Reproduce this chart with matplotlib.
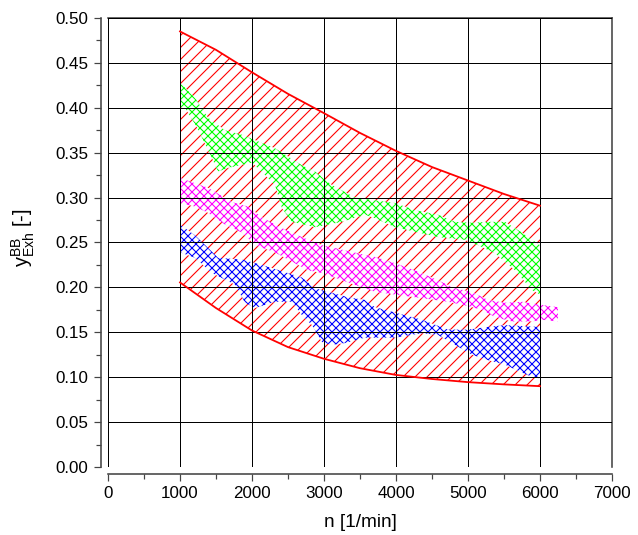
import numpy as np
import matplotlib.pyplot as plt
from matplotlib.ticker import MultipleLocator, FormatStrFormatter

plt.rcParams['font.family'] = ['Liberation Sans', 'DejaVu Sans']
plt.rcParams['mathtext.default'] = 'regular'
plt.rcParams['hatch.linewidth'] = 1.1

# red envelope (upper / lower limit)
env_n = [1000, 1500, 2000, 2500, 3000, 3500, 4000, 4500, 5000, 5500, 6000]
env_upper = [0.485, 0.4645, 0.4395, 0.4155, 0.394, 0.372, 0.352, 0.334, 0.319, 0.304, 0.291]
env_lower = [0.2055, 0.177, 0.152, 0.1335, 0.1205, 0.110, 0.1025, 0.098, 0.0945, 0.092, 0.090]

# green band
green_up_n = [1000, 1208, 1389, 1625, 1861, 2042, 2319, 2694, 2875, 3111, 3431, 3708,
              3986, 4264, 4583, 4819, 5056, 5278, 5514, 5750, 6000]
green_up = [0.428, 0.411, 0.389, 0.375, 0.370, 0.364, 0.355, 0.336, 0.329, 0.314, 0.300,
            0.297, 0.294, 0.286, 0.281, 0.273, 0.272, 0.273, 0.273, 0.261, 0.247]
green_lo_n = [1000, 1069, 1236, 1444, 1528, 1667, 2000, 2181, 2319, 2417, 2556, 2875,
              3250, 3569, 3708, 3986, 4264, 4583, 4958, 5139, 5375, 5653, 5889, 6000]
green_lo = [0.401, 0.400, 0.378, 0.344, 0.329, 0.333, 0.339, 0.325, 0.314, 0.288, 0.273,
            0.267, 0.273, 0.281, 0.277, 0.267, 0.262, 0.256, 0.253, 0.247, 0.238, 0.219,
            0.197, 0.192]

# magenta band
mag_up_n = [1000, 1208, 1389, 1722, 1944, 2139, 2417, 2694, 2972, 3250, 3528, 3708,
            3986, 4264, 4583, 4819, 5056, 5278, 5514, 5750, 6069, 6250]
mag_up = [0.322, 0.316, 0.311, 0.295, 0.290, 0.278, 0.266, 0.256, 0.247, 0.242, 0.237,
          0.234, 0.227, 0.219, 0.208, 0.199, 0.195, 0.186, 0.183, 0.184, 0.180, 0.178]
mag_lo_n = [1000, 1208, 1389, 1625, 1861, 2042, 2319, 2500, 2778, 2972, 3250, 3528,
            3708, 3986, 4361, 4722, 4958, 5194, 5375, 5611, 5889, 6028, 6250]
mag_lo = [0.294, 0.290, 0.283, 0.270, 0.261, 0.247, 0.239, 0.231, 0.219, 0.216, 0.208,
          0.200, 0.195, 0.192, 0.188, 0.184, 0.180, 0.175, 0.167, 0.162, 0.162, 0.164, 0.162]

# blue band
blue_up_n = [1000, 1208, 1389, 1528, 1861, 2139, 2458, 2694, 2875, 3111, 3333, 3569,
             3708, 3986, 4361, 4722, 5000, 5278, 5514, 6000]
blue_up = [0.270, 0.258, 0.244, 0.233, 0.231, 0.225, 0.217, 0.211, 0.199, 0.194, 0.189,
           0.186, 0.178, 0.172, 0.164, 0.153, 0.153, 0.156, 0.158, 0.156]
blue_lo_n = [1000, 1208, 1444, 1764, 1903, 2042, 2319, 2556, 2694, 2833, 2972, 3111,
             3292, 3569, 3986, 4361, 4583, 4819, 5056, 5278, 5514, 5750, 5931, 6000]
blue_lo = [0.239, 0.233, 0.216, 0.203, 0.183, 0.177, 0.184, 0.184, 0.169, 0.158, 0.139,
           0.136, 0.138, 0.144, 0.144, 0.149, 0.147, 0.136, 0.125, 0.119, 0.114, 0.105,
           0.099, 0.099]

fig = plt.figure(figsize=(638 / 72, 535 / 72), dpi=72)
ax = fig.add_axes([0.1693, 0.1271, 0.7899, 0.8393])

# red envelope, diagonal hatch
ax.fill(np.concatenate([env_n, env_n[::-1]]),
        np.concatenate([env_upper, env_lower[::-1]]),
        facecolor='none', edgecolor='#ff0000', hatch='//', linewidth=0, zorder=1)
ax.plot(env_n, env_upper, color='#ff0000', lw=1.8, zorder=4)
ax.plot(env_n, env_lower, color='#ff0000', lw=1.8, zorder=4)


def band(n_up, up, n_lo, lo, color):
    xs = np.concatenate([n_up, n_lo[::-1]])
    ys = np.concatenate([up, lo[::-1]])
    ax.fill(xs, ys, facecolor='white', edgecolor=color, hatch='xxx', linewidth=0, zorder=2)


band(green_up_n, green_up, green_lo_n, green_lo, '#00ff00')
band(mag_up_n, mag_up, mag_lo_n, mag_lo, '#ff00ff')
band(blue_up_n, blue_up, blue_lo_n, blue_lo, '#0000ff')

ax.set_xlim(0, 7000)
ax.set_ylim(0, 0.5)
ax.xaxis.set_major_locator(MultipleLocator(1000))
ax.xaxis.set_minor_locator(MultipleLocator(500))
ax.yaxis.set_major_locator(MultipleLocator(0.05))
ax.yaxis.set_minor_locator(MultipleLocator(0.025))
ax.yaxis.set_major_formatter(FormatStrFormatter('%.2f'))
ax.grid(True, which='major', color='black', lw=1.0, zorder=3)
ax.set_axisbelow(False)

for s in ['top', 'right']:
    ax.spines[s].set_color('#444444')
    ax.spines[s].set_linewidth(1.6)
for s in ['left', 'bottom']:
    ax.spines[s].set_position(('outward', 7))
    ax.spines[s].set_color('#444444')
    ax.spines[s].set_linewidth(1.6)

ax.tick_params(which='major', direction='out', length=7, width=1.2, color='#444444',
               labelsize=17, labelcolor='black')
ax.tick_params(which='minor', direction='out', length=5, width=1.2, color='#444444')
ax.tick_params(axis='y', pad=6)
ax.tick_params(axis='x', pad=5)

ax.set_xlabel('n [1/min]', fontsize=19, labelpad=13)
ax.set_ylabel(r'y$_{Exh}^{BB}$ [-]', fontsize=20)
ax.yaxis.set_label_coords(-0.14, 0.51)

fig.savefig('out.png', dpi=72)
